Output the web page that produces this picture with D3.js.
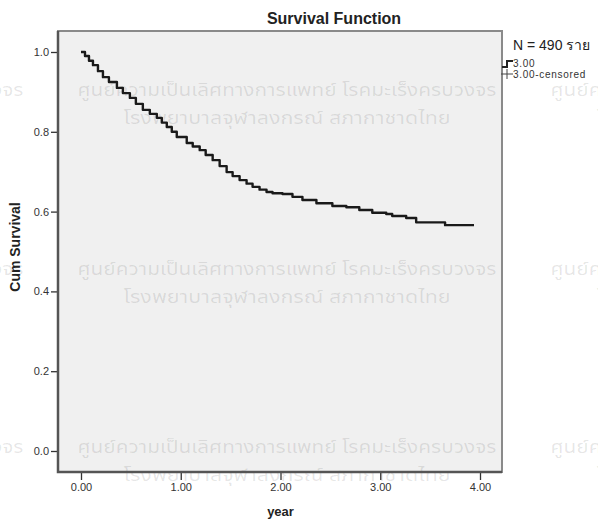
<!DOCTYPE html>
<html>
<head>
<meta charset="utf-8">
<script src="https://cdn.jsdelivr.net/npm/d3@7"></script>
<style>
    body { margin: 0; background: #fff; }
    svg { display: block; }
</style>
</head>
<body>
<svg id="chart" width="598" height="522"></svg>
<script>
// Kaplan-Meier estimate (time in years)
const yearValues = [0, 0.04, 0.08, 0.12, 0.17, 0.22, 0.28, 0.36, 0.42, 0.49, 0.55, 0.62, 0.69, 0.76,
    0.81, 0.86, 0.91, 0.96, 1.06, 1.12, 1.19, 1.25, 1.32, 1.39, 1.46, 1.52, 1.59, 1.66, 1.72,
    1.79, 1.86, 1.92, 2.02, 2.12, 2.22, 2.36, 2.52, 2.66, 2.79, 2.92, 3.06, 3.12, 3.26, 3.36,
    3.65, 3.94];
const survivalValues = [1.0, 0.99, 0.978, 0.967, 0.952, 0.937, 0.925, 0.910, 0.897, 0.885, 0.870,
    0.855, 0.845, 0.835, 0.823, 0.812, 0.800, 0.787, 0.772, 0.763, 0.754, 0.742, 0.729, 0.714,
    0.699, 0.689, 0.679, 0.670, 0.662, 0.655, 0.649, 0.646, 0.644, 0.637, 0.629, 0.621, 0.614,
    0.611, 0.604, 0.597, 0.594, 0.589, 0.584, 0.573, 0.566, 0.566];

// Tick labels
const xTickValues = [0, 1, 2, 3, 4];
const yTickValues = [0, 0.2, 0.4, 0.6, 0.8, 1.0];

// Texts
const chartTitle = "Survival Function";
const xLabel = "year";
const yLabel = "Cum Survival";
const legendTitle = "N = 490 ราย";
const legendLabels = ["3.00", "3.00-censored"];
const watermarkLines = [
    "ศูนย์ความเป็นเลิศทางการแพทย์ โรคมะเร็งครบวงจร",
    "โรงพยาบาลจุฬาลงกรณ์ สภากาชาดไทย"
];


/**
 * Survival plot in the style of the SPSS output
 *
 * @param element svg element
 * @constructor
 */
function SurvivalChart(element) {
    this.element = element;
    this.svg = null;
    this.x = null;
    this.y = null;

    // Plot frame
    this.frame = {left: 58, right: 502, top: 31, bottom: 472};

    this.font = "'Liberation Sans', Arial, sans-serif";
    this.thaiFont = "Tahoma, 'Noto Sans Thai', 'Leelawadee UI', 'DejaVu Sans', sans-serif";


    /**
     * Scales, panel and watermark
     */
    this.setup = function () {
        let me = this;
        let f = me.frame;

        me.svg = d3.select(me.element);

        me.x = d3.scaleLinear().domain([0, 4]).range([81, 480]);
        me.y = d3.scaleLinear().domain([0, 1]).range([451, 52]);

        // Panel
        me.svg.append("rect")
            .attr("x", f.left)
            .attr("y", f.top)
            .attr("width", f.right - f.left)
            .attr("height", f.bottom - f.top)
            .attr("fill", "#f0f0f0")
            .attr("stroke", "#8a8a8a")
            .attr("stroke-width", 2);

        // Watermark, tiled over the whole picture
        let wm = me.svg.append("g").attr("class", "watermark");
        [-473, 0, 473].forEach(function (dx) {
            [0, 178.5, 357].forEach(function (dy) {
                wm.append("text")
                    .attr("x", 287 + dx)
                    .attr("y", 96 + dy)
                    .attr("text-anchor", "middle")
                    .attr("textLength", 419)
                    .attr("lengthAdjust", "spacingAndGlyphs")
                    .text(watermarkLines[0]);
                wm.append("text")
                    .attr("x", 287 + dx)
                    .attr("y", 124 + dy)
                    .attr("text-anchor", "middle")
                    .attr("textLength", 327)
                    .attr("lengthAdjust", "spacingAndGlyphs")
                    .text(watermarkLines[1]);
            });
        });
        wm.selectAll("text")
            .attr("font-family", me.thaiFont)
            .attr("font-size", 18)
            .attr("fill", "#000")
            .attr("fill-opacity", 0.1);
    };


    /**
     * Axes with ticks outside the frame
     */
    this.drawAxes = function () {
        let me = this;
        let f = me.frame;

        let yAxis = me.svg.append("g")
            .attr("transform", "translate(" + f.left + ",0)")
            .call(d3.axisLeft(me.y).tickValues(yTickValues).tickFormat(d3.format(".1f"))
                .tickSize(7).tickPadding(2));

        let xAxis = me.svg.append("g")
            .attr("transform", "translate(0," + f.bottom + ")")
            .call(d3.axisBottom(me.x).tickValues(xTickValues).tickFormat(d3.format(".2f"))
                .tickSize(8).tickPadding(3));

        [xAxis, yAxis].forEach(function (a) {
            a.select(".domain").remove();
            a.selectAll(".tick line").attr("stroke", "#333").attr("stroke-width", 1.3);
            a.selectAll(".tick text")
                .attr("fill", "#333")
                .attr("font-family", me.font)
                .attr("font-size", 11);
        });

        // Darker left and bottom frame lines
        me.svg.append("path")
            .attr("d", "M" + f.left + "," + f.top + "V" + f.bottom + "H" + f.right)
            .attr("fill", "none")
            .attr("stroke", "#555")
            .attr("stroke-width", 2.5);

        // Title and axis labels
        me.svg.append("text")
            .attr("x", 334)
            .attr("y", 24)
            .attr("text-anchor", "middle")
            .attr("font-family", me.font)
            .attr("font-weight", "bold")
            .attr("font-size", 16)
            .attr("fill", "#222")
            .text(chartTitle);

        me.svg.append("text")
            .attr("x", me.x(2))
            .attr("y", 516)
            .attr("text-anchor", "middle")
            .attr("font-family", me.font)
            .attr("font-weight", "bold")
            .attr("font-size", 13)
            .attr("fill", "#222")
            .text(xLabel);

        me.svg.append("text")
            .attr("transform", "translate(20,247) rotate(-90)")
            .attr("text-anchor", "middle")
            .attr("font-family", me.font)
            .attr("font-weight", "bold")
            .attr("font-size", 14)
            .attr("fill", "#222")
            .text(yLabel);
    };


    /**
     * The survival step curve
     */
    this.drawCurve = function () {
        let me = this;

        let data = yearValues.map(function (t, i) {
            return [t, survivalValues[i]];
        });

        let line = d3.line()
            .x(function (d) { return me.x(d[0]); })
            .y(function (d) { return me.y(d[1]); })
            .curve(d3.curveStepAfter);

        me.svg.append("path")
            .datum(data)
            .attr("d", line)
            .attr("fill", "none")
            .attr("stroke", "#1a1a1a")
            .attr("stroke-width", 2.4)
            .attr("stroke-linejoin", "round");
    };


    /**
     * Legend at the right, partly cut by the picture edge
     */
    this.drawLegend = function () {
        let me = this;
        let lg = me.svg.append("g");

        lg.append("text")
            .attr("x", 513)
            .attr("y", 50)
            .attr("font-family", me.font)
            .attr("font-size", 14)
            .attr("fill", "#222")
            .text(legendTitle);

        // Step symbol
        lg.append("path")
            .attr("d", "M502,67H507V61H513")
            .attr("fill", "none")
            .attr("stroke", "#222")
            .attr("stroke-width", 2);

        // Censor symbol
        lg.append("path")
            .attr("d", "M501,74H513M507,69V79")
            .attr("fill", "none")
            .attr("stroke", "#444")
            .attr("stroke-width", 1);

        lg.selectAll("text.item")
            .data(legendLabels)
            .enter()
            .append("text")
            .attr("class", "item")
            .attr("x", 513)
            .attr("y", function (d, i) { return 67 + i * 11; })
            .attr("font-family", me.font)
            .attr("font-size", 10)
            .attr("letter-spacing", 0.7)
            .attr("fill", "#333")
            .text(function (d) { return d; });
    };


    this.setup();
    this.drawCurve();
    this.drawAxes();
    this.drawLegend();
}

new SurvivalChart(document.getElementById("chart"));
</script>
</body>
</html>
